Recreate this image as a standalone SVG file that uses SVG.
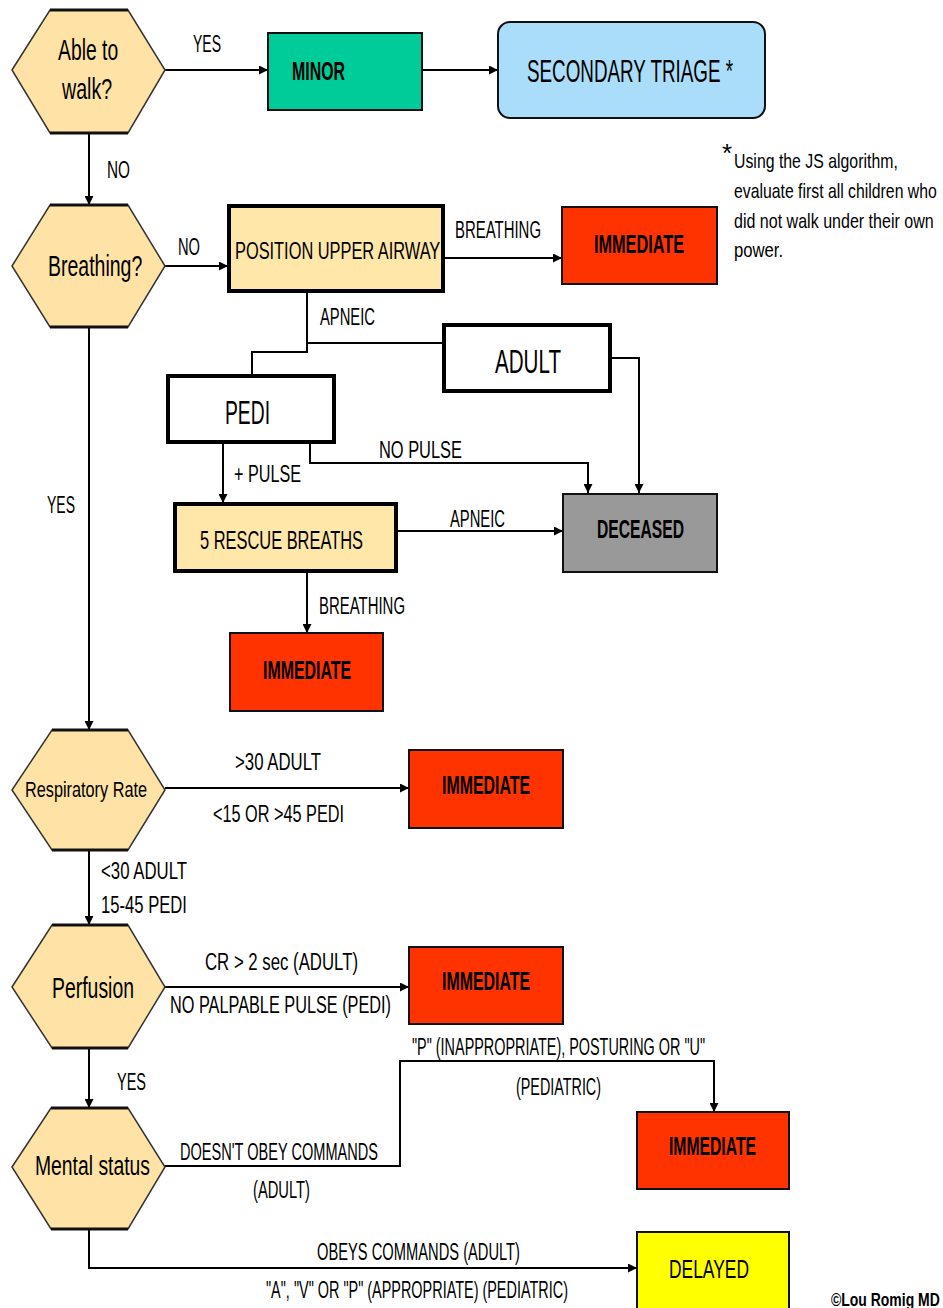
<svg xmlns="http://www.w3.org/2000/svg" width="943" height="1308" viewBox="0 0 943 1308">
<style>
text{font-family:"Liberation Sans",Arial,sans-serif;fill:#000}
.hex{fill:#FFE3A6;stroke:#333;stroke-width:1.5}
.hedge{stroke:#111;stroke-width:3}
.box{stroke:#111;stroke-width:2}
.thick{stroke:#000;stroke-width:4}
.imm{fill:#FF3300}
.lbl{font-size:23px}
.bold{font-weight:bold}
.conn path{fill:none;stroke:#000;stroke-width:2}
</style>
<defs>
<marker id="ah" viewBox="0 0 10 10" refX="10" refY="5" markerWidth="11" markerHeight="9" markerUnits="userSpaceOnUse" orient="auto">
<path d="M0,0 L10,5 L0,10 z" fill="#000"/>
</marker>
</defs>
<rect width="943" height="1308" fill="#fff"/>

<g class="conn">
<path d="M165,70 H268" marker-end="url(#ah)"/>
<path d="M422,70 H498" marker-end="url(#ah)"/>
<path d="M89,133 V205" marker-end="url(#ah)"/>
<path d="M165,266 H228" marker-end="url(#ah)"/>
<path d="M444,258 H562" marker-end="url(#ah)"/>
<path d="M307,292 V352 H252 V375"/>
<path d="M307,343 H443"/>
<path d="M611,358 H639 V493" marker-end="url(#ah)"/>
<path d="M223,443 V503" marker-end="url(#ah)"/>
<path d="M310,443 V463 H588 V493" marker-end="url(#ah)"/>
<path d="M397,531 H563" marker-end="url(#ah)"/>
<path d="M307,572 V633" marker-end="url(#ah)"/>
<path d="M89,327 V730" marker-end="url(#ah)"/>
<path d="M165,788 H409" marker-end="url(#ah)"/>
<path d="M89,850 V925" marker-end="url(#ah)"/>
<path d="M165,987 H409" marker-end="url(#ah)"/>
<path d="M89,1048 V1108" marker-end="url(#ah)"/>
<path d="M165,1166 H400 V1061 H714 V1112" marker-end="url(#ah)"/>
<path d="M89,1229 V1268 H637" marker-end="url(#ah)"/>
</g>

<g id="walk">
<polygon class="hex" points="12,70 50,10 128,10 165,70 128,133 50,133"/>
<path class="hedge" d="M50,10 H128 M50,133 H128"/>
<text transform="translate(58,60) scale(0.62,1)" font-size="30" textLength="97" lengthAdjust="spacingAndGlyphs">Able to</text>
<text transform="translate(62,99) scale(0.62,1)" font-size="30" textLength="81" lengthAdjust="spacingAndGlyphs">walk?</text>
</g>

<g id="minor">
<rect class="box" x="268" y="33" width="154" height="77" fill="#00CC99"/>
<text x="292" y="80" font-size="25" class="bold" textLength="53" lengthAdjust="spacingAndGlyphs">MINOR</text>
</g>

<g id="secondary">
<rect class="box" x="498" y="22" width="267" height="96" rx="12" fill="#A9DDF9"/>
<text x="527" y="82" font-size="31" textLength="206" lengthAdjust="spacingAndGlyphs">SECONDARY TRIAGE *</text>
</g>

<g id="footnote">
<text x="722" y="162" font-size="26">*</text>
<text transform="translate(734,168) scale(0.78,1)" font-size="20" textLength="210" lengthAdjust="spacingAndGlyphs">Using the JS algorithm,</text>
<text transform="translate(734,198) scale(0.78,1)" font-size="20" textLength="260" lengthAdjust="spacingAndGlyphs">evaluate first all children who</text>
<text transform="translate(734,228) scale(0.78,1)" font-size="20" textLength="256" lengthAdjust="spacingAndGlyphs">did not walk under their own</text>
<text transform="translate(734,257) scale(0.78,1)" font-size="20" textLength="63" lengthAdjust="spacingAndGlyphs">power.</text>
</g>

<g id="breathing">
<polygon class="hex" points="12,266 50,205 128,205 165,266 128,327 50,327"/>
<path class="hedge" d="M50,205 H128 M50,327 H128"/>
<text transform="translate(48,276) scale(0.62,1)" font-size="30" textLength="152" lengthAdjust="spacingAndGlyphs">Breathing?</text>
</g>

<g id="airway">
<rect class="thick" x="229" y="206" width="214" height="85" fill="#FFE6A9"/>
<text transform="translate(235,259) scale(0.66,1)" font-size="24" textLength="311" lengthAdjust="spacingAndGlyphs">POSITION UPPER AIRWAY</text>
</g>

<g id="immediate1">
<rect class="box imm" x="562" y="207" width="155" height="77"/>
<text x="594" y="253" font-size="25" class="bold" textLength="90" lengthAdjust="spacingAndGlyphs">IMMEDIATE</text>
</g>

<g id="adult">
<rect class="thick" x="444" y="325" width="166" height="66" fill="#fff"/>
<text x="495" y="373" font-size="33" textLength="66" lengthAdjust="spacingAndGlyphs">ADULT</text>
</g>

<g id="pedi">
<rect class="thick" x="168" y="376" width="166" height="66" fill="#fff"/>
<text x="225" y="424" font-size="33" textLength="45" lengthAdjust="spacingAndGlyphs">PEDI</text>
</g>

<g id="rescue">
<rect class="thick" x="175" y="504" width="221" height="67" fill="#FFE6A9"/>
<text x="200" y="549" font-size="25" textLength="163" lengthAdjust="spacingAndGlyphs">5 RESCUE BREATHS</text>
</g>

<g id="deceased">
<rect class="box" x="563" y="494" width="154" height="78" fill="#999999"/>
<text x="597" y="538" font-size="25" class="bold" textLength="87" lengthAdjust="spacingAndGlyphs">DECEASED</text>
</g>

<g id="immediate2">
<rect class="box imm" x="230" y="633" width="153" height="78"/>
<text x="263" y="679" font-size="25" class="bold" textLength="88" lengthAdjust="spacingAndGlyphs">IMMEDIATE</text>
</g>

<g id="resp">
<polygon class="hex" points="12,790 52,730 128,730 165,790 128,850 52,850"/>
<path class="hedge" d="M52,730 H128 M52,850 H128"/>
<text x="25" y="797" font-size="22" textLength="122" lengthAdjust="spacingAndGlyphs">Respiratory Rate</text>
</g>

<g id="immediate3">
<rect class="box imm" x="409" y="750" width="154" height="78"/>
<text x="442" y="794" font-size="25" class="bold" textLength="88" lengthAdjust="spacingAndGlyphs">IMMEDIATE</text>
</g>

<g id="perfusion">
<polygon class="hex" points="12,987 52,925 128,925 165,987 128,1048 52,1048"/>
<path class="hedge" d="M52,925 H128 M52,1048 H128"/>
<text x="52" y="998" font-size="29" textLength="82" lengthAdjust="spacingAndGlyphs">Perfusion</text>
</g>

<g id="immediate4">
<rect class="box imm" x="409" y="947" width="154" height="77"/>
<text x="442" y="990" font-size="25" class="bold" textLength="88" lengthAdjust="spacingAndGlyphs">IMMEDIATE</text>
</g>

<g id="mental">
<polygon class="hex" points="12,1167 51,1108 128,1108 165,1167 128,1229 51,1229"/>
<path class="hedge" d="M51,1108 H128 M51,1229 H128"/>
<text x="35" y="1175" font-size="27" textLength="115" lengthAdjust="spacingAndGlyphs">Mental status</text>
</g>

<g id="immediate5">
<rect class="box imm" x="637" y="1112" width="152" height="77"/>
<text x="669" y="1155" font-size="25" class="bold" textLength="87" lengthAdjust="spacingAndGlyphs">IMMEDIATE</text>
</g>

<g id="delayed">
<rect class="box" x="637" y="1232" width="152" height="80" fill="#FFFF00"/>
<text x="669" y="1278" font-size="25" textLength="80" lengthAdjust="spacingAndGlyphs">DELAYED</text>
</g>

<g id="labels" class="lbl">
<text x="193" y="52" textLength="28" lengthAdjust="spacingAndGlyphs">YES</text>
<text x="107" y="178" textLength="23" lengthAdjust="spacingAndGlyphs">NO</text>
<text x="178" y="255" textLength="22" lengthAdjust="spacingAndGlyphs">NO</text>
<text x="455" y="238" textLength="86" lengthAdjust="spacingAndGlyphs">BREATHING</text>
<text x="320" y="325" textLength="55" lengthAdjust="spacingAndGlyphs">APNEIC</text>
<text x="379" y="458" textLength="83" lengthAdjust="spacingAndGlyphs">NO PULSE</text>
<text x="234" y="482" textLength="67" lengthAdjust="spacingAndGlyphs">+ PULSE</text>
<text x="450" y="527" textLength="55" lengthAdjust="spacingAndGlyphs">APNEIC</text>
<text x="319" y="614" textLength="86" lengthAdjust="spacingAndGlyphs">BREATHING</text>
<text x="47" y="513" textLength="28" lengthAdjust="spacingAndGlyphs">YES</text>
<text x="235" y="770" textLength="86" lengthAdjust="spacingAndGlyphs">&gt;30 ADULT</text>
<text x="213" y="822" textLength="131" lengthAdjust="spacingAndGlyphs">&lt;15 OR &gt;45 PEDI</text>
<text x="101" y="879" textLength="86" lengthAdjust="spacingAndGlyphs">&lt;30 ADULT</text>
<text x="101" y="913" textLength="86" lengthAdjust="spacingAndGlyphs">15-45 PEDI</text>
<text x="205" y="970" textLength="153" lengthAdjust="spacingAndGlyphs">CR &gt; 2 sec (ADULT)</text>
<text x="170" y="1013" textLength="221" lengthAdjust="spacingAndGlyphs">NO PALPABLE PULSE (PEDI)</text>
<text x="117" y="1090" textLength="29" lengthAdjust="spacingAndGlyphs">YES</text>
<text x="180" y="1160" textLength="198" lengthAdjust="spacingAndGlyphs">DOESN'T OBEY COMMANDS</text>
<text x="253" y="1198" textLength="57" lengthAdjust="spacingAndGlyphs">(ADULT)</text>
<text x="412" y="1055" textLength="293" lengthAdjust="spacingAndGlyphs">"P" (INAPPROPRIATE), POSTURING OR "U"</text>
<text x="516" y="1095" textLength="85" lengthAdjust="spacingAndGlyphs">(PEDIATRIC)</text>
<text x="317" y="1260" textLength="203" lengthAdjust="spacingAndGlyphs">OBEYS COMMANDS (ADULT)</text>
<text transform="translate(266,1298) scale(0.62,1)" textLength="487" lengthAdjust="spacingAndGlyphs">"A", "V" OR "P" (APPROPRIATE) (PEDIATRIC)</text>
<text transform="translate(831,1306) scale(0.68,1)" font-size="19" class="bold" textLength="160" lengthAdjust="spacingAndGlyphs">©Lou Romig MD</text>
</g>
</svg>
